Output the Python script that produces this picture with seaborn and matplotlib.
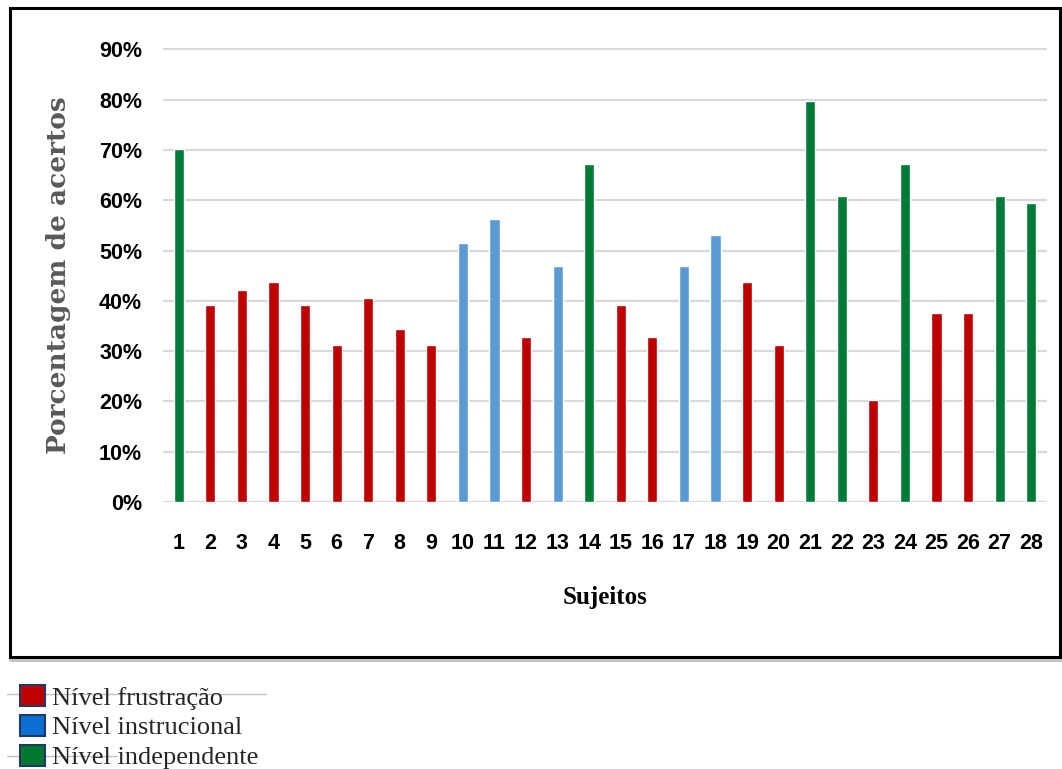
import pandas as pd
import numpy as np
import matplotlib.pyplot as plt
import seaborn as sns
from matplotlib.patches import Patch, Rectangle
from matplotlib.lines import Line2D
from matplotlib.ticker import PercentFormatter

# Data (share of correct answers per subject)
sujeitos = [str(i) for i in range(1, 29)]
acertos = [0.703, 0.391, 0.422, 0.438, 0.391, 0.313, 0.406, 0.344, 0.313, 0.516,
           0.563, 0.328, 0.469, 0.672, 0.391, 0.328, 0.469, 0.531, 0.438, 0.313,
           0.797, 0.609, 0.203, 0.672, 0.375, 0.375, 0.609, 0.594]
nivel = ['I', 'F', 'F', 'F', 'F', 'F', 'F', 'F', 'F', 'S',
         'S', 'F', 'S', 'I', 'F', 'F', 'S', 'S', 'F', 'F',
         'I', 'I', 'F', 'I', 'F', 'F', 'I', 'I']
niveis = ['F', 'S', 'I']
legend_labels = ['Nível frustração', 'Nível instrucional', 'Nível independente']
bar_colors = {'F': '#C00000', 'S': '#5B9BD5', 'I': '#007A37'}
legend_colors = ['#C00000', '#0A6FD0', '#00782F']

df = pd.DataFrame({'sujeito': sujeitos, 'acertos': acertos, 'nivel': nivel})

sns.set_theme(style="white")
plt.rcParams['font.family'] = ['Liberation Sans', 'DejaVu Sans']

fig = plt.figure(figsize=(10.62, 7.69), dpi=100)
ax = fig.add_axes([0.1535, 0.3472, 0.8324, 0.5904])

sns.barplot(data=df, x='sujeito', y='acertos', hue='nivel', hue_order=niveis,
            palette=bar_colors, dodge=False, width=0.32, saturation=1,
            legend=False, ax=ax)

ax.set_ylim(0, 0.903)
ax.set_yticks(np.arange(0, 0.91, 0.1))
ax.yaxis.set_major_formatter(PercentFormatter(1.0, decimals=0))
ax.grid(axis='y', color='#D9D9D9', linewidth=1.6)
ax.set_axisbelow(True)
sns.despine(ax=ax, left=True, bottom=True)
ax.tick_params(axis='both', length=0)
ax.tick_params(axis='y', pad=15)
ax.tick_params(axis='x', pad=22)
for lab in ax.get_xticklabels() + ax.get_yticklabels():
    lab.set_fontweight('bold')
    lab.set_fontsize(15.5)
    lab.set_color('black')

ax.set_xlabel('Sujeitos', family='Liberation Serif', fontweight='bold',
              fontsize=18, color='black', labelpad=23)
ax.set_ylabel('Porcentagem de acertos', family='DejaVu Serif',
              fontweight='bold', fontsize=19, color='#595959', labelpad=20)

# outer chart frame
fig.patches.append(Rectangle((0.0094, 0.1456), 0.989, 0.8438, transform=fig.transFigure,
                             fill=False, edgecolor='black', linewidth=2.2))
fig.lines.append(Line2D([0.0094, 0.999], [0.1420, 0.1420], transform=fig.transFigure,
                        color='#BFBFBF', linewidth=2))

# legend below the frame
handles = [Patch(facecolor=c, edgecolor='#1F3864', linewidth=1.5) for c in legend_colors]
fig.lines.append(Line2D([0.007, 0.25], [0.0975, 0.0975], transform=fig.transFigure,
                        color='#C0C0C0', linewidth=1))
fig.lines.append(Line2D([0.007, 0.11], [0.0165, 0.0165], transform=fig.transFigure,
                        color='#C0C0C0', linewidth=1))
fig.legend(handles, legend_labels, loc='upper left', bbox_to_anchor=(0.004, 0.13),
           frameon=False, prop={'family': 'Liberation Serif', 'size': 19},
           handlelength=0.95, handleheight=0.85, handletextpad=0.25,
           labelspacing=0.2, borderpad=0.1)

plt.savefig('out.png', dpi=100)
